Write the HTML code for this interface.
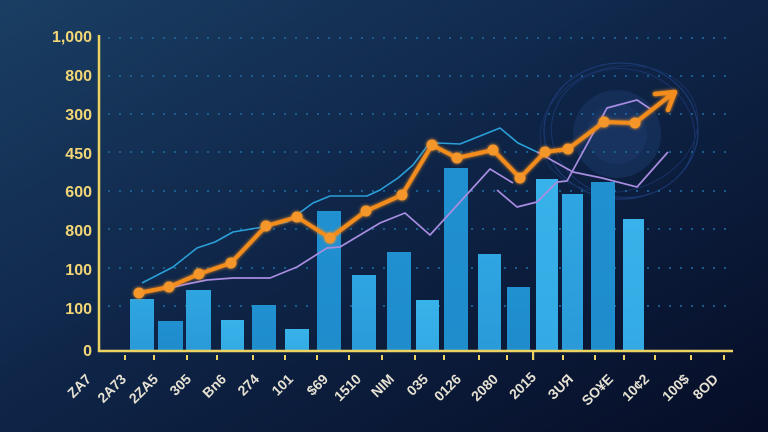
<!DOCTYPE html>
<html>
<head>
<meta charset="utf-8">
<style>
  html,body{margin:0;padding:0;background:#0c1d3e;}
  svg{display:block;}
  .yl{font-family:"Liberation Sans",sans-serif;font-weight:bold;font-size:16px;fill:#f2d676;text-anchor:end;}
  .xl{font-family:"Liberation Sans","DejaVu Sans",sans-serif;font-weight:bold;font-size:14px;fill:#e6e1d2;text-anchor:end;}
</style>
</head>
<body>
<svg width="768" height="432" viewBox="0 0 768 432" xmlns="http://www.w3.org/2000/svg">
  <defs>
    <linearGradient id="bg" x1="0" y1="0" x2="1" y2="1">
      <stop offset="0" stop-color="#1a3e63"/>
      <stop offset="0.45" stop-color="#0f2649"/>
      <stop offset="1" stop-color="#060d26"/>
    </linearGradient>
    <linearGradient id="b1" x1="0" y1="0" x2="0" y2="1">
      <stop offset="0" stop-color="#2ea6e2"/>
      <stop offset="1" stop-color="#2a9ad8"/>
    </linearGradient>
    <linearGradient id="b2" x1="0" y1="0" x2="0" y2="1">
      <stop offset="0" stop-color="#2090d0"/>
      <stop offset="1" stop-color="#1f8ccc"/>
    </linearGradient>
    <linearGradient id="b3" x1="0" y1="0" x2="0" y2="1">
      <stop offset="0" stop-color="#38b2ea"/>
      <stop offset="1" stop-color="#33aae4"/>
    </linearGradient>
    <filter id="glow" x="-10%" y="-10%" width="120%" height="120%">
      <feGaussianBlur stdDeviation="1.5" result="b"/>
      <feMerge><feMergeNode in="b"/><feMergeNode in="SourceGraphic"/></feMerge>
    </filter>
  </defs>

  <rect width="768" height="432" fill="url(#bg)"/>

  <!-- decorative emblem -->
  <g opacity="0.9">
    <circle cx="617" cy="134" r="44" fill="#1a3766" opacity="0.65"/>
    <circle cx="617" cy="134" r="30" fill="#223f70" opacity="0.45"/>
    <ellipse cx="621" cy="131" rx="77" ry="68" fill="none" stroke="#1d3c78" stroke-width="1.2"/>
    <ellipse cx="623" cy="133" rx="72" ry="64" fill="none" stroke="#1b376f" stroke-width="1" transform="rotate(12 623 133)"/>
    <ellipse cx="619" cy="129" rx="80" ry="62" fill="none" stroke="#193468" stroke-width="0.9" transform="rotate(-15 619 129)"/>
  </g>

  <!-- gridlines -->
  <g stroke="#1c6396" stroke-width="2" stroke-dasharray="2 9" opacity="0.9">
    <line x1="108" y1="38" x2="733" y2="38"/>
    <line x1="108" y1="76" x2="733" y2="76"/>
    <line x1="108" y1="114" x2="733" y2="114"/>
    <line x1="108" y1="152" x2="733" y2="152"/>
    <line x1="108" y1="191" x2="733" y2="191"/>
    <line x1="108" y1="229" x2="733" y2="229"/>
    <line x1="108" y1="268" x2="733" y2="268"/>
    <line x1="108" y1="306" x2="733" y2="306"/>
  </g>

  <!-- bars -->
  <g>
    <rect x="130" y="299" width="24" height="52" fill="url(#b1)"/>
    <rect x="158" y="321" width="25" height="30" fill="url(#b2)"/>
    <rect x="186" y="290" width="25" height="61" fill="url(#b1)"/>
    <rect x="221" y="320" width="23" height="31" fill="url(#b3)"/>
    <rect x="252" y="305" width="24" height="46" fill="url(#b2)"/>
    <rect x="285" y="329" width="24" height="22" fill="url(#b3)"/>
    <rect x="317" y="211" width="24" height="140" fill="url(#b2)"/>
    <rect x="352" y="275" width="24" height="76" fill="url(#b1)"/>
    <rect x="387" y="252" width="24" height="99" fill="url(#b2)"/>
    <rect x="416" y="300" width="23" height="51" fill="url(#b3)"/>
    <rect x="444" y="168" width="24" height="183" fill="url(#b2)"/>
    <rect x="478" y="254" width="23" height="97" fill="url(#b1)"/>
    <rect x="507" y="287" width="23" height="64" fill="url(#b2)"/>
    <rect x="536" y="179" width="22" height="172" fill="url(#b3)"/>
    <rect x="562" y="194" width="21" height="157" fill="url(#b1)"/>
    <rect x="591" y="182" width="24" height="169" fill="url(#b2)"/>
    <rect x="623" y="219" width="21" height="132" fill="url(#b3)"/>
  </g>

  <!-- blue thin line -->
  <polyline fill="none" stroke="#2b9fd8" stroke-width="1.6" stroke-linejoin="round"
    points="142,283 173,267 197,248 215,242 233,232 263,227 287,222 313,203 330,196 367,196 380,190 398,178 413,165 428,145 437,143 460,144 500,128 518,143 537,152"/>

  <!-- purple lines -->
  <g fill="none" stroke="#a88de0" stroke-width="1.7" stroke-linejoin="round">
    <polyline points="170,288 187,284 207,280 233,278 270,278 297,267 327,248 340,247 380,223 405,213 430,235 490,169 513,183"/>
    <polyline points="497,190 517,207 537,202 557,182 567,181 607,108 637,100 652,110"/>
    <polyline points="537,152 573,172 602,178 637,187 668,152"/>
  </g>

  <!-- orange line -->
  <g filter="url(#glow)">
    <polyline fill="none" stroke="#f28c1f" stroke-width="4" stroke-linejoin="round" stroke-linecap="round"
      points="139,293 169,287 199,274 231,263 266,226 297,217 330,238 366,211 402,195 432,145 457,158 493,150 520,178 545,152 568,149 604,122 635,123 672,94"/>
    <polyline fill="none" stroke="#f28c1f" stroke-width="4.5" stroke-linejoin="round" stroke-linecap="round"
      points="655,94 675,92 668,110"/>
    <g fill="#f4962c">
      <circle cx="139" cy="293" r="5.5"/>
      <circle cx="169" cy="287" r="5.5"/>
      <circle cx="199" cy="274" r="5.5"/>
      <circle cx="231" cy="263" r="5.5"/>
      <circle cx="266" cy="226" r="5.5"/>
      <circle cx="297" cy="217" r="5.5"/>
      <circle cx="330" cy="238" r="5.5"/>
      <circle cx="366" cy="211" r="5.5"/>
      <circle cx="402" cy="195" r="5.5"/>
      <circle cx="432" cy="145" r="5.5"/>
      <circle cx="457" cy="158" r="5.5"/>
      <circle cx="493" cy="150" r="5.5"/>
      <circle cx="520" cy="178" r="5.5"/>
      <circle cx="545" cy="152" r="5.5"/>
      <circle cx="568" cy="149" r="5.5"/>
      <circle cx="604" cy="122" r="5.5"/>
      <circle cx="635" cy="123" r="5.5"/>
    </g>
  </g>

  <!-- axes -->
  <line x1="99" y1="35" x2="99" y2="352" stroke="#ecd261" stroke-width="2.5"/>
  <line x1="98" y1="351" x2="733" y2="351" stroke="#ecd261" stroke-width="2.5"/>
  <rect x="532" y="351" width="2.2" height="9" fill="#ecd261"/>
  <g fill="#ecd261">
    <rect x="124" y="355" width="2" height="5"/>
    <rect x="153" y="355" width="2" height="5"/>
    <rect x="186" y="355" width="2" height="5"/>
    <rect x="216" y="355" width="2" height="5"/>
    <rect x="252" y="355" width="2" height="5"/>
    <rect x="284" y="355" width="2" height="5"/>
    <rect x="316" y="355" width="2" height="5"/>
    <rect x="348" y="355" width="2" height="5"/>
    <rect x="381" y="355" width="2" height="5"/>
    <rect x="414" y="355" width="2" height="5"/>
    <rect x="443" y="355" width="2" height="5"/>
    <rect x="478" y="355" width="2" height="5"/>
    <rect x="506" y="355" width="2" height="5"/>
    <rect x="562" y="355" width="2" height="5"/>
    <rect x="594" y="355" width="2" height="5"/>
    <rect x="623" y="355" width="2" height="5"/>
    <rect x="654" y="355" width="2" height="5"/>
    <rect x="690" y="355" width="2" height="5"/>
    <rect x="723" y="355" width="2" height="5"/>
  </g>

  <!-- y labels -->
  <text class="yl" x="92" y="42">1,000</text>
  <text class="yl" x="92" y="81">800</text>
  <text class="yl" x="92" y="120">300</text>
  <text class="yl" x="92" y="159">450</text>
  <text class="yl" x="92" y="197">600</text>
  <text class="yl" x="92" y="236">800</text>
  <text class="yl" x="92" y="275">100</text>
  <text class="yl" x="92" y="314">100</text>
  <text class="yl" x="92" y="356">0</text>

  <!-- x labels -->
  <text class="xl" transform="translate(92,380) rotate(-45)">ZA7</text>
  <text class="xl" transform="translate(127,380) rotate(-45)">2A73</text>
  <text class="xl" transform="translate(159,380) rotate(-45)">2ZA5</text>
  <text class="xl" transform="translate(192,380) rotate(-45)">305</text>
  <text class="xl" transform="translate(227,380) rotate(-45)">Bn6</text>
  <text class="xl" transform="translate(260,380) rotate(-45)">274</text>
  <text class="xl" transform="translate(294,380) rotate(-45)">101</text>
  <text class="xl" transform="translate(329,380) rotate(-45)">$69</text>
  <text class="xl" transform="translate(362,380) rotate(-45)">1510</text>
  <text class="xl" transform="translate(395,380) rotate(-45)">NIM</text>
  <text class="xl" transform="translate(429,380) rotate(-45)">035</text>
  <text class="xl" transform="translate(462,380) rotate(-45)">0126</text>
  <text class="xl" transform="translate(499,380) rotate(-45)">2080</text>
  <text class="xl" transform="translate(537,378) rotate(-45)">2015</text>
  <text class="xl" transform="translate(574,380) rotate(-45)">ЗUЯ</text>
  <text class="xl" transform="translate(614,380) rotate(-45)">SO¥E</text>
  <text class="xl" transform="translate(650,380) rotate(-45)">10¢2</text>
  <text class="xl" transform="translate(690,380) rotate(-45)">100$</text>
  <text class="xl" transform="translate(719,380) rotate(-45)">8OD</text>
</svg>
</body>
</html>
